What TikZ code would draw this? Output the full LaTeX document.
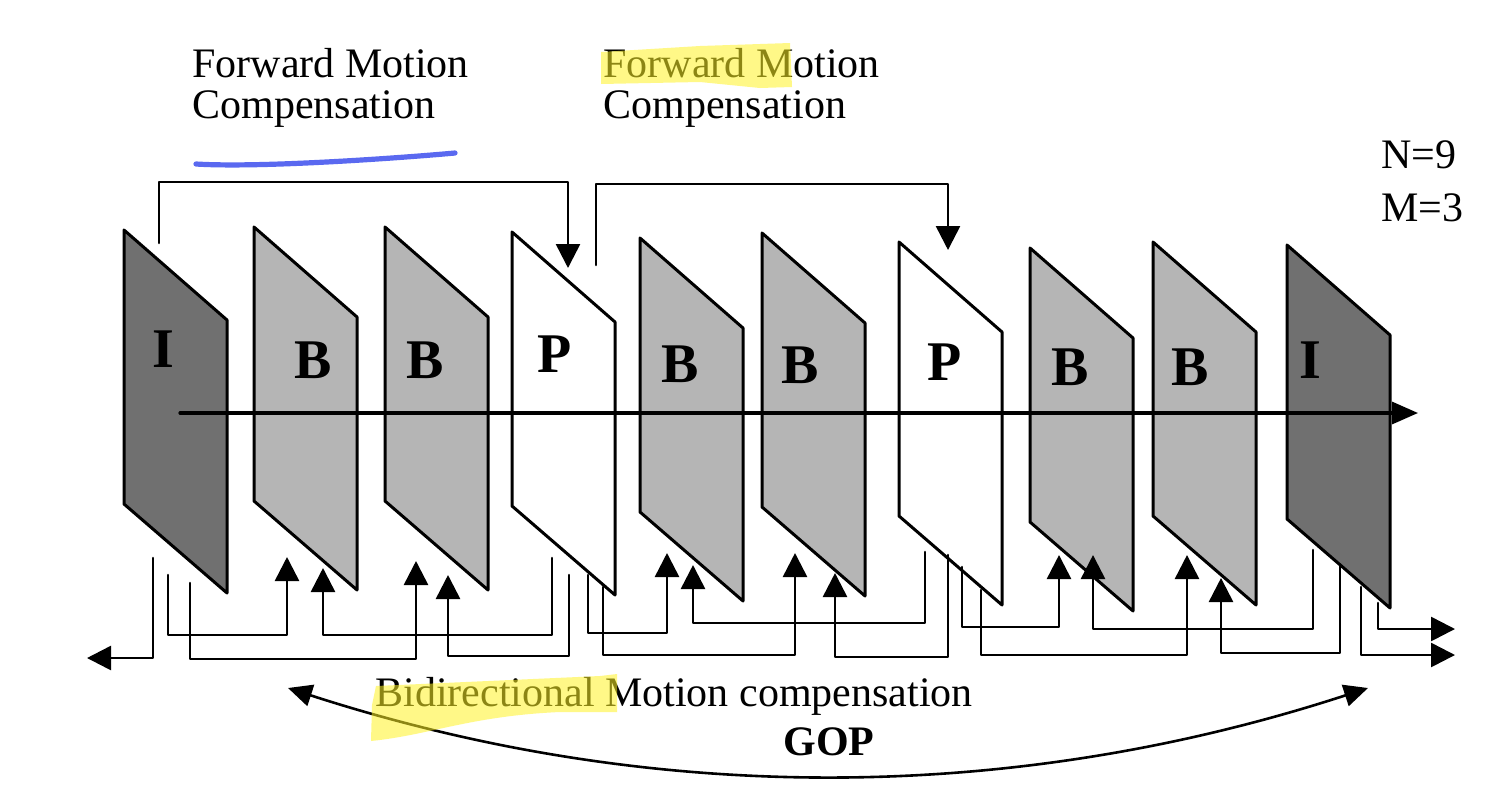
\documentclass[tikz,border=0pt]{standalone}
\usepackage{fontspec}
\setmainfont{Liberation Serif}
\usetikzlibrary{arrows.meta}
\definecolor{pen}{RGB}{90,105,240}
\begin{document}
\begin{tikzpicture}[x=0.5pt,y=-0.5pt,line cap=round,line join=round,
		frame/.style={draw=black,line width=1.5pt},
		iframe/.style={frame,fill=black!56},
		bframe/.style={frame,fill=black!29},
		pframe/.style={frame,fill=white},
		conn/.style={line width=1.3pt,-{Triangle[width=12pt,length=12pt]}},
		lbl/.style={font=\fontsize{21}{20.5}\selectfont,inner sep=0pt},
		hl/.style={fill=yellow!85!white,opacity=0.55}]
	\fill[white] (0,0) rectangle (1486,798);
	\useasboundingbox (0,0) rectangle (1486,798);
	% the ten pictures of the GOP
	\foreach \px/\py/\sty/\lx/\ly/\txt [count=\i] in {124/230/iframe/163/367/I,254/227/bframe/313/378/B,385/227/bframe/425/378/B,512/232/pframe/555/372/P,640/238/bframe/680/382/B,762/233/bframe/800/383/B,899/242/pframe/945/380/P,1030/248/bframe/1070/385/B,1153/242/bframe/1190/385/B,1287/245/iframe/1310/378/I}{
		\draw[\sty] (\px,\py) -- (\px+103,\py+90) -- (\px+103,\py+363) -- (\px,\py+274) -- cycle;
		\node[anchor=base,inner sep=0pt,font=\fontsize{28}{28}\selectfont\bfseries] (f\i) at (\lx,\ly) {\txt};}
	\coordinate (ax0) at (180,413); \coordinate (ax1) at (1418,413);
	\draw[line width=1.6pt,-{Triangle[width=11pt,length=13pt]}] (ax0) -- (ax1);
	% forward prediction
	\coordinate (fa0) at (159,243); \coordinate (fa1) at (568,268);
	\draw[conn] (fa0) -- ++(0,-61) -| (fa1);
	\coordinate (fb0) at (596,265); \coordinate (fb1) at (948,250);
	\draw[conn] (fb0) -- ++(0,-81) -| (fb1);
	% bidirectional prediction
	\foreach \sx/\sy/\hy/\tx/\ty [count=\k] in {168/575/635/287/557,190/583/659/416/561,552/558/635/323/568,569/575/656/448/575,588/575/633/667/553,603/587/655/795/553,925/552/623/693/565,948/555/657/835/573,962/567/627/1059/555,981/590/655/1187/555,1313/550/629/1093/555,1340/565/653/1221/578}{
		\coordinate (src\k) at (\sx,\sy); \coordinate (dst\k) at (\tx,\ty);
		\draw[conn] (src\k) -- (\sx,\hy) -| (dst\k);}
	\coordinate (prev0) at (153,558); \coordinate (prev1) at (87,658);
	\draw[conn] (prev0) |- (prev1);
	\coordinate (next0) at (1378,603); \coordinate (next1) at (1455,629);
	\draw[conn] (next0) |- (next1);
	\coordinate (next2) at (1361,587); \coordinate (next3) at (1455,655);
	\draw[conn] (next2) |- (next3);
	% texts
	\node[lbl,anchor=north west,align=left] (fmc1) at (192,48) {Forward Motion\\Compensation};
	\node[lbl,anchor=north west,align=left] (fmc2) at (603,48) {Forward Motion\\Compensation};
	\node[lbl,anchor=north west,align=left,font=\fontsize{21}{26.5}\selectfont] (nm) at (1381,140) {N=9\\M=3};
	\node[lbl,anchor=base west] (bmc) at (375,706) {Bidirectional Motion compensation};
	\node[lbl,anchor=base,font=\fontsize{21}{21}\selectfont\bfseries] (gop) at (829,755) {GOP};
	\coordinate (gop0) at (288,688); \coordinate (gop1) at (1368,688);
	\draw[line width=1.3pt,{Triangle[width=11pt,length=12pt]}-{Triangle[width=11pt,length=12pt]}] (gop0) .. controls (649,805) and (1009,805) .. (gop1);
	% marks on the page
	\draw[pen,line width=2.6pt] (196,164) .. controls (260,168) and (400,158) .. (455,153);
	\fill[hl] (601,52) -- (700,46) -- (790,43) -- (792,87) -- (760,88) -- (700,82) -- (601,84) -- cycle;
	\fill[hl] (376,686) -- (600,676) -- (617,674) -- (617,712) -- (560,712) .. controls (470,716) and (430,735) .. (371,741) -- (372,705) -- cycle;
\end{tikzpicture}
\end{document}
